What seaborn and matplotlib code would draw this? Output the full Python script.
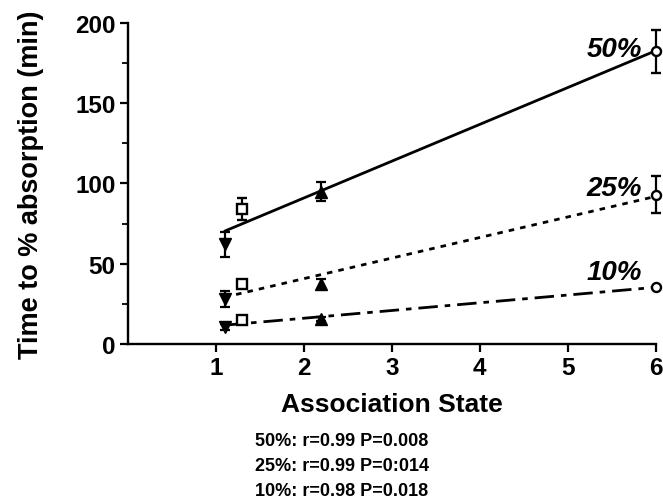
import numpy as np
import pandas as pd
import matplotlib
matplotlib.use("Agg")
import matplotlib.pyplot as plt
import seaborn as sns
from matplotlib.ticker import MultipleLocator

# ---- data ----
assoc_state = [1.1, 1.3, 2.2, 6.0]
y50 = [62, 84, 95, 182.5]
e50 = [8, 7, 6, 13.5]
y25 = [28, 37.5, 37.5, 93]
e25 = [5, 0, 3, 11.5]
y10 = [10.5, 15, 15.5, 35.5]
e10 = [2, 0, 1, 0]
series_labels = ["50%", "25%", "10%"]
stats_lines = ["50%: r=0.99 P=0.008", "25%: r=0.99 P=0:014", "10%: r=0.98 P=0.018"]
x_ticks = [1, 2, 3, 4, 5, 6]
y_ticks = [0, 50, 100, 150, 200]

sns.set_theme(style="ticks")
plt.rcParams["font.family"] = ["Liberation Sans", "DejaVu Sans"]
plt.rcParams["font.weight"] = "bold"
for key in ["text.color", "axes.labelcolor", "xtick.color", "ytick.color",
            "axes.edgecolor"]:
    plt.rcParams[key] = "black"

fig = plt.figure(figsize=(6.63, 5.02), dpi=100)
ax = fig.add_axes([0.193, 0.313, 0.796, 0.639])

marker_styles = [
    dict(marker="v", mfc="black", mec="black", ms=9),
    dict(marker="s", mfc="white", mec="black", ms=7, mew=1.7),
    dict(marker="^", mfc="black", mec="black", ms=9),
    dict(marker="o", mfc="white", mec="black", ms=6.5, mew=1.7),
]
line_styles = ["-", (0, (2, 2.2)), (0, (7, 2.5, 2, 2.5))]

for ys, es, ls in zip([y50, y25, y10], [e50, e25, e10], line_styles):
    df = pd.DataFrame({"x": assoc_state, "y": ys})
    sns.regplot(data=df, x="x", y="y", ax=ax, scatter=False, ci=None,
                truncate=True, color="black",
                line_kws=dict(lw=2.0, linestyle=ls))
    for xi, yi, ei, st in zip(assoc_state, ys, es, marker_styles):
        ax.errorbar(xi, yi, yerr=ei if ei > 0 else None, color="black",
                    capsize=3.5, elinewidth=1.6, capthick=1.6,
                    linestyle="none", clip_on=False, zorder=4, **st)

# series labels
label_y = [184, 97, 45]
for lab, ly in zip(series_labels, label_y):
    ax.text(5.84, ly, lab, ha="right", va="center", fontsize=20,
            fontstyle="italic", fontweight="bold")

ax.set_xlim(0, 6)
ax.set_ylim(0, 200)
ax.set_xticks(x_ticks)
ax.set_yticks(y_ticks)
ax.yaxis.set_minor_locator(MultipleLocator(25))
ax.tick_params(axis="both", which="major", labelsize=17.5, width=1.6, length=6,
               direction="out", pad=3)
ax.tick_params(axis="y", which="minor", width=1.3, length=4, direction="out")
for lbl in ax.get_xticklabels() + ax.get_yticklabels():
    lbl.set_fontweight("bold")
for side in ["top", "right"]:
    ax.spines[side].set_visible(False)
for side in ["left", "bottom"]:
    ax.spines[side].set_linewidth(1.7)
    ax.spines[side].set_color("black")

ax.set_xlabel("Association State", fontsize=19, fontweight="bold", labelpad=9)
ax.set_ylabel("Time to % absorption (min)", fontsize=19.5, fontweight="bold",
              labelpad=22)

for i, s in enumerate(stats_lines):
    fig.text(0.385, 0.12 - i * 0.05, s, ha="left", va="center",
             fontsize=13, fontweight="bold")

fig.savefig("out.png", dpi=100)
